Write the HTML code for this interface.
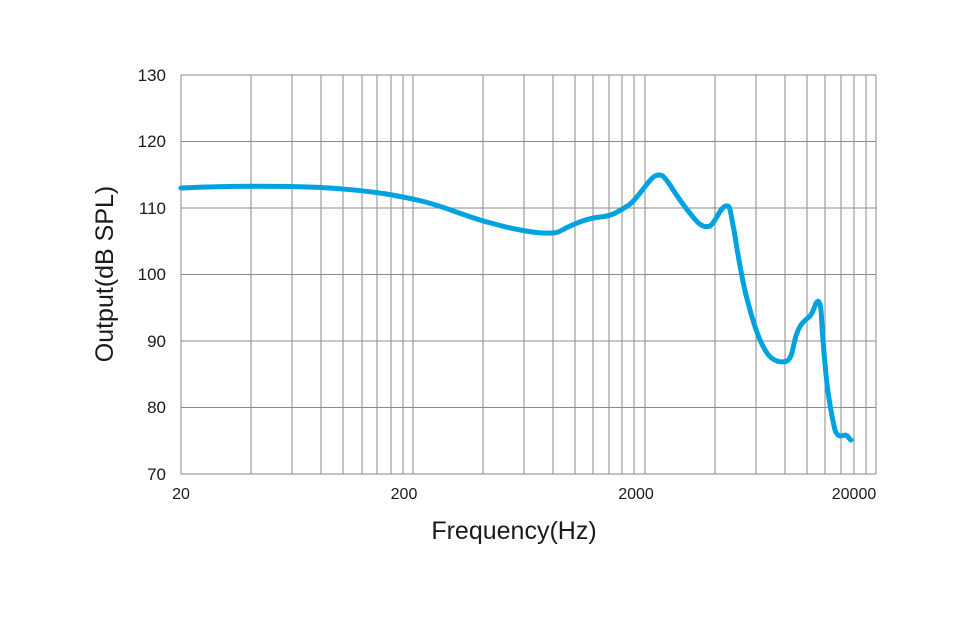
<!DOCTYPE html>
<html><head><meta charset="utf-8"><style>
body{margin:0;background:#fff}
svg text{font-family:"Liberation Sans",sans-serif;fill:#1a1a1a}
</style></head><body>
<svg width="976" height="613" viewBox="0 0 976 613" xmlns="http://www.w3.org/2000/svg">
<g stroke="#8a8a8a" stroke-width="1" fill="none">
<line x1="181" y1="75" x2="876" y2="75"/>
<line x1="181" y1="141.5" x2="876" y2="141.5"/>
<line x1="181" y1="208" x2="876" y2="208"/>
<line x1="181" y1="274.5" x2="876" y2="274.5"/>
<line x1="181" y1="341" x2="876" y2="341"/>
<line x1="181" y1="407.5" x2="876" y2="407.5"/>
<line x1="181" y1="474" x2="876" y2="474"/>
<line x1="181" y1="75" x2="181" y2="474"/>
<line x1="251" y1="75" x2="251" y2="474"/>
<line x1="292" y1="75" x2="292" y2="474"/>
<line x1="321" y1="75" x2="321" y2="474"/>
<line x1="343" y1="75" x2="343" y2="474"/>
<line x1="362" y1="75" x2="362" y2="474"/>
<line x1="377" y1="75" x2="377" y2="474"/>
<line x1="391" y1="75" x2="391" y2="474"/>
<line x1="403" y1="75" x2="403" y2="474"/>
<line x1="413" y1="75" x2="413" y2="474"/>
<line x1="483" y1="75" x2="483" y2="474"/>
<line x1="524" y1="75" x2="524" y2="474"/>
<line x1="553" y1="75" x2="553" y2="474"/>
<line x1="575" y1="75" x2="575" y2="474"/>
<line x1="593" y1="75" x2="593" y2="474"/>
<line x1="609" y1="75" x2="609" y2="474"/>
<line x1="622" y1="75" x2="622" y2="474"/>
<line x1="634" y1="75" x2="634" y2="474"/>
<line x1="645" y1="75" x2="645" y2="474"/>
<line x1="715" y1="75" x2="715" y2="474"/>
<line x1="756" y1="75" x2="756" y2="474"/>
<line x1="785" y1="75" x2="785" y2="474"/>
<line x1="807" y1="75" x2="807" y2="474"/>
<line x1="825" y1="75" x2="825" y2="474"/>
<line x1="841" y1="75" x2="841" y2="474"/>
<line x1="854" y1="75" x2="854" y2="474"/>
<line x1="866" y1="75" x2="866" y2="474"/>
<line x1="876" y1="75" x2="876" y2="474"/>
</g>
<path fill="none" stroke="#00a3e0" stroke-width="5" stroke-linejoin="round" stroke-linecap="round"
d="M181,188 C220,186 262,186 290,186.5 C330,187 370,191 392,195 C420,200 430,203 445,208 C465,215 478,220 491,223 C515,230 540,234 551,233 C558,233 560,231 566,228 C578,222 590,218 600,217 C612,216 618,212 629,205 C640,196 648,180 655,176 C663,172 666,180 670,185 C675,193 683,205 693,217 C700,226 705,228 710,226 C716,222 720,207 726,206 C731,205 730,212 734,230 C738,255 741,275 746,295 C752,318 758,340 767,353 C773,362 782,363 787,361 C793,358 793,343 797,333 C801,322 806,320 810,316 C814,312 816,298 819,302 C822,308 821,318 823,340 C826,380 829,405 835,430 C838,438 841,436 845,435 C848,435 848,438 851,440"/>
<g font-size="17" text-anchor="end">
<text x="166" y="81">130</text>
<text x="166" y="147">120</text>
<text x="166" y="214">110</text>
<text x="166" y="280">100</text>
<text x="166" y="347">90</text>
<text x="166" y="413">80</text>
<text x="166" y="480">70</text>
</g>
<g font-size="16" text-anchor="middle">
<text x="181" y="499">20</text>
<text x="404" y="499">200</text>
<text x="636" y="499">2000</text>
<text x="854" y="499">20000</text>
</g>
<text x="514" y="539" font-size="25" text-anchor="middle">Frequency(Hz)</text>
<text transform="translate(113,274) rotate(-90)" font-size="25" text-anchor="middle">Output(dB SPL)</text>
</svg>
</body></html>
